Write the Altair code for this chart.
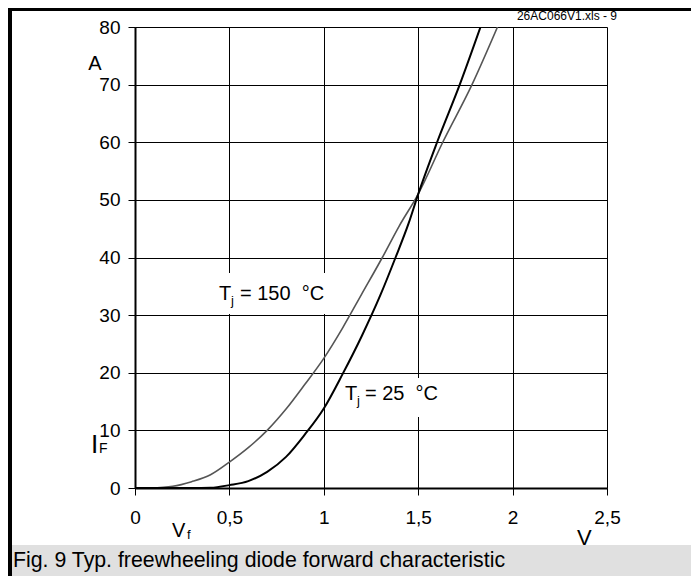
import altair as alt
import pandas as pd

FONT = "Liberation Sans"

# 25 °C curve (black)
v25 = [0.0, 0.3, 0.4, 0.5, 0.6, 0.7, 0.8, 0.9, 1.0, 1.1, 1.2, 1.3, 1.38, 1.45, 1.5, 1.6, 1.72, 1.83]
i25 = [0.0, 0.0, 0.05, 0.5, 1.2, 2.8, 5.4, 9.3, 13.8, 19.8, 26.3, 33.5, 40.0, 46.0, 51.0, 60.0, 70.0, 80.0]

# 150 °C curve (grey)
v150 = [0.08, 0.2, 0.3, 0.4, 0.5, 0.6, 0.7, 0.8, 0.9, 1.0, 1.1, 1.2, 1.31, 1.4, 1.5, 1.63, 1.785, 1.92]
i150 = [0.0, 0.3, 1.1, 2.3, 4.5, 7.0, 10.0, 13.7, 18.0, 22.5, 27.8, 33.6, 40.0, 45.5, 51.0, 60.0, 70.0, 80.0]

x_ticks = [0, 0.5, 1, 1.5, 2, 2.5]
y_ticks = [0, 10, 20, 30, 40, 50, 60, 70, 80]

caption = "Fig. 9 Typ. freewheeling diode forward characteristic"
file_tag = "26AC066V1.xls - 9"

df25 = pd.DataFrame({"V": v25, "I": i25})
df150 = pd.DataFrame({"V": v150, "I": i150})
dummy = pd.DataFrame({"k": [0]})

xs = alt.Scale(domain=[0, 2.5], nice=False, zero=False)
ys = alt.Scale(domain=[0, 80], nice=False, zero=False)

xaxis = alt.Axis(values=x_ticks, format="~g", labelExpr="replace(datum.label, '.', ',')",
                 title=None, grid=True, gridColor="black", gridWidth=1, gridOpacity=1,
                 domainColor="black", domainWidth=2, tickColor="black", tickSize=7,
                 tickWidth=1, labelFont=FONT, labelFontSize=19, labelColor="black",
                 labelPadding=13, labelFlush=False)
yaxis = alt.Axis(values=y_ticks, title=None, grid=True, gridColor="black", gridWidth=1,
                 gridOpacity=1, domainColor="black", domainWidth=2, tickColor="black",
                 tickSize=7, tickWidth=1, labelFont=FONT, labelFontSize=19,
                 labelColor="black", labelPadding=8, labelFlush=False)

base_x = alt.X("V:Q", scale=xs, axis=xaxis)
base_y = alt.Y("I:Q", scale=ys, axis=yaxis)

line150 = alt.Chart(df150).mark_line(color="#555555", strokeWidth=1.6, clip=True,
                                     interpolate="monotone").encode(
    x=base_x, y=base_y, order=alt.Order("V:Q"))
line25 = alt.Chart(df25).mark_line(color="black", strokeWidth=2, clip=True,
                                   interpolate="monotone").encode(
    x=alt.X("V:Q", scale=xs), y=alt.Y("I:Q", scale=ys), order=alt.Order("V:Q"))


def box(x1, x2, y1, y2):
    return alt.Chart(dummy).mark_rect(color="white").encode(
        x=alt.datum(x1), x2=alt.datum(x2), y=alt.datum(y1), y2=alt.datum(y2))


def dtext(txt, x, y, size=19):
    return alt.Chart(dummy).mark_text(text=txt, align="left", baseline="alphabetic",
                                      font=FONT, fontSize=size, color="black").encode(
        x=alt.datum(x), y=alt.datum(y))


def ptext(txt, x, y, size=19, align="left", color="black"):
    return alt.Chart(dummy).mark_text(text=txt, align=align, baseline="alphabetic",
                                      font=FONT, fontSize=size, color=color).encode(
        x=alt.value(x), y=alt.value(y))


boxes = [box(0.397, 1.027, 37.3, 30.2), box(1.06, 1.615, 19.1, 12.3)]

labels = [
    dtext("T", 0.445, 32.6, 20), dtext("j", 0.508, 31.8, 13),
    dtext("=\u00a0150\u00a0\u00a0°C", 0.556, 32.6, 20),
    dtext("T", 1.112, 15.27, 20), dtext("j", 1.176, 14.4, 13),
    dtext("=\u00a025\u00a0\u00a0°C", 1.218, 15.27, 20),
]

caption_bg = alt.Chart(dummy).mark_rect(color="#e0e0e0").encode(
    x=alt.value(-123), x2=alt.value(556), y=alt.value(518), y2=alt.value(549))
frame_top = alt.Chart(dummy).mark_rule(color="black", strokeWidth=3).encode(
    x=alt.value(-127), x2=alt.value(556), y=alt.value(-17.5))
frame_left = alt.Chart(dummy).mark_rule(color="black", strokeWidth=4).encode(
    x=alt.value(-125), y=alt.value(-19), y2=alt.value(549))

deco = [
    caption_bg, frame_top, frame_left,
    ptext(caption, -122, 540, 21.3),
    ptext(file_tag, 482, -7, 12, align="right"),
    ptext("A", -40, 43, 20, align="center"),
    ptext("I", -44, 426, 26), ptext("F", -36, 426, 14),
    ptext("V", 37, 510, 20), ptext("f", 52, 512, 13),
    ptext("V", 442, 518, 22),
]

chart = alt.layer(*boxes, line150, line25, *labels, *deco).properties(
    width=472, height=461,
    autosize=alt.AutoSizeParams(type="none"),
    padding={"left": 127, "top": 19, "right": 84, "bottom": 88},
).configure_view(stroke="black", strokeWidth=2.5).configure(background="white")

chart.save("out.html", embed_options={"renderer": "svg", "actions": False})
